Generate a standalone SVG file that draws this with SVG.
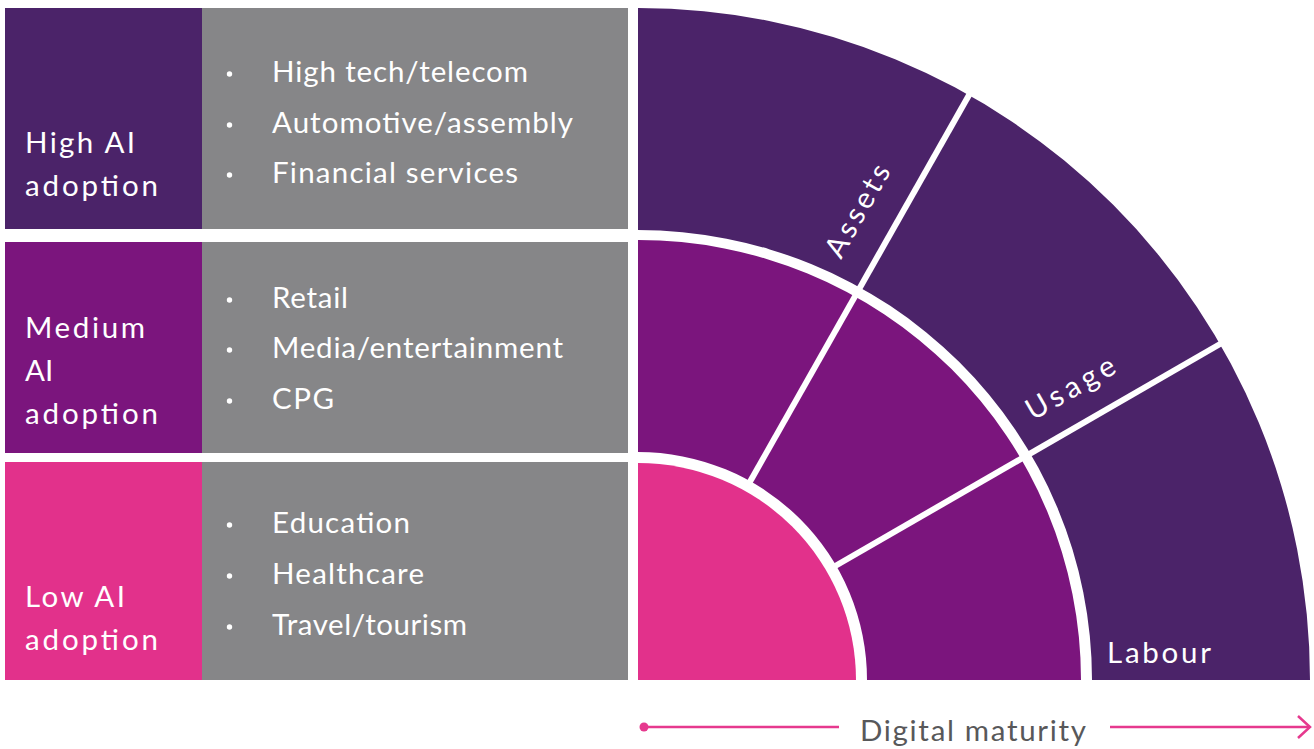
<svg xmlns="http://www.w3.org/2000/svg" width="1314" height="749" viewBox="0 0 1314 749">
  <style>
    text { font-family: Lato, "Liberation Sans", sans-serif; font-size: 29.5px; font-weight: 400; fill: #ffffff; }
    .dark { fill: #4B2369; }
    .mid { fill: #7B157D; }
    .pink { fill: #E2318B; }
    .grey { fill: #868688; }
    .bullet { fill: #ffffff; }
    .divider { stroke: #ffffff; stroke-width: 6; }
    .axis { stroke: #E6398E; stroke-width: 2.5; fill: none; }
    .axis-label { fill: #58585A; }
  </style>
  <rect width="1314" height="749" fill="#ffffff"/>

  <!-- adoption tiers -->
  <g id="tier-high">
    <rect class="dark" x="5" y="8" width="197" height="221"/>
    <rect class="grey" x="202" y="8" width="426" height="221"/>
    <text x="25" y="153" textLength="110">High AI</text>
    <text x="25" y="196" textLength="133">adoption</text>
    <circle class="bullet" cx="229.5" cy="74" r="2.7"/><text x="272" y="82" textLength="256">High tech/telecom</text>
    <circle class="bullet" cx="229.5" cy="125" r="2.7"/><text x="272" y="133" textLength="301">Automotive/assembly</text>
    <circle class="bullet" cx="229.5" cy="175" r="2.7"/><text x="272" y="183" textLength="246">Financial services</text>
  </g>
  <g id="tier-medium">
    <rect class="mid" x="5" y="242" width="197" height="211"/>
    <rect class="grey" x="202" y="242" width="426" height="211"/>
    <text x="25" y="338" textLength="120">Medium</text>
    <text x="25" y="381">AI</text>
    <text x="25" y="424" textLength="133">adoption</text>
    <circle class="bullet" cx="229.5" cy="300" r="2.7"/><text x="272" y="308" textLength="76">Retail</text>
    <circle class="bullet" cx="229.5" cy="350" r="2.7"/><text x="272" y="358" textLength="291">Media/entertainment</text>
    <circle class="bullet" cx="229.5" cy="401" r="2.7"/><text x="272" y="409" textLength="62">CPG</text>
  </g>
  <g id="tier-low">
    <rect class="pink" x="5" y="462" width="197" height="218"/>
    <rect class="grey" x="202" y="462" width="426" height="218"/>
    <text x="25" y="607" textLength="100">Low AI</text>
    <text x="25" y="650" textLength="133">adoption</text>
    <circle class="bullet" cx="229.5" cy="525" r="2.7"/><text x="272" y="533" textLength="138">Education</text>
    <circle class="bullet" cx="229.5" cy="576" r="2.7"/><text x="272" y="584" textLength="152">Healthcare</text>
    <circle class="bullet" cx="229.5" cy="627" r="2.7"/><text x="272" y="635" textLength="195">Travel/tourism</text>
  </g>

  <!-- quarter-disc: centre (638,680) -->
  <g id="ring-outer">
    <path class="dark" d="M1092,680 L1310,680 A672,672 0 0 0 638,8 L638,230 A454,450 0 0 1 1092,680 Z"/>
  </g>
  <g id="ring-middle">
    <path class="mid" d="M867,680 L1081,680 A443,440 0 0 0 638,240 L638,452 A229,228 0 0 1 867,680 Z"/>
  </g>
  <g id="core">
    <path class="pink" d="M638,680 L856,680 A218,217 0 0 0 638,463 Z"/>
  </g>

  <g id="connectors">
    <!-- radial dividers at 30 and 60 degrees -->
    <line class="divider" x1="830" y1="569" x2="1227" y2="340"/>
    <line class="divider" x1="747" y1="487" x2="973" y2="88"/>
    <!-- digital maturity axis -->
    <circle cx="644" cy="727" r="4.5" fill="#E6398E"/>
    <line class="axis" x1="644" y1="727" x2="839" y2="727"/>
    <line class="axis" x1="1110" y1="727" x2="1310" y2="727"/>
    <polyline class="axis" points="1298,716 1310,727 1298,738"/>
  </g>

  <g id="ring-labels">
    <text x="841" y="260" textLength="102" transform="rotate(-60.5 841 260)">Assets</text>
    <text x="1033" y="421" textLength="98" transform="rotate(-30 1033 421)">Usage</text>
    <text x="1107" y="663" textLength="104">Labour</text>
  </g>
  <g id="axis-label">
    <text class="axis-label" x="860" y="741" textLength="226">Digital maturity</text>
  </g>
</svg>
